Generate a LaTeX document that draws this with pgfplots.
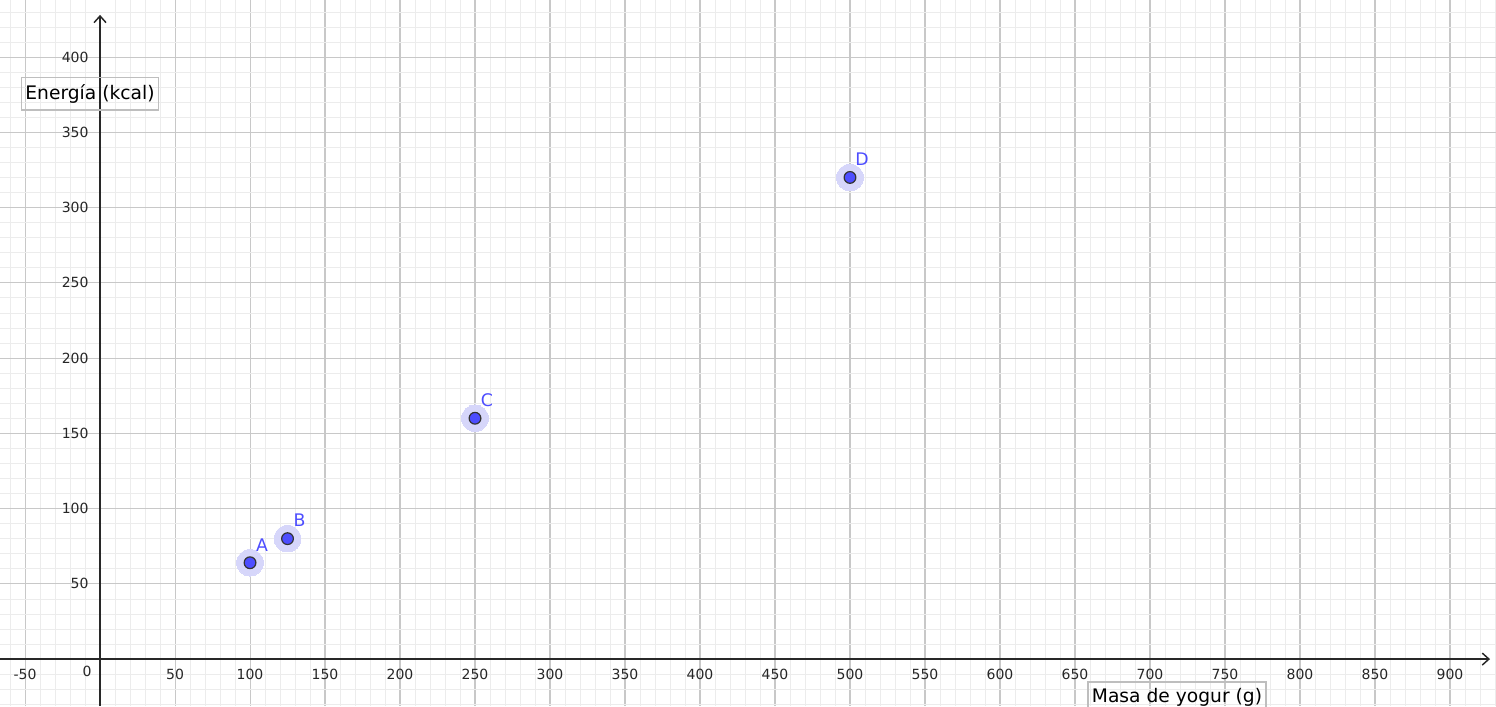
\documentclass[border=0pt]{standalone}
\usepackage{fontspec}
\setmainfont{DejaVu Sans}
\usepackage{pgfplots}
\pgfplotsset{compat=1.18}
\usetikzlibrary{arrows.meta}
\definecolor{ptblue}{RGB}{77,77,255}
\definecolor{halo}{RGB}{214,214,250}
\definecolor{majgrid}{RGB}{200,200,200}
\definecolor{mingrid}{RGB}{236,236,236}
\definecolor{axcol}{RGB}{40,40,40}
\definecolor{boxcol}{RGB}{190,190,190}
\begin{document}
\begin{tikzpicture}
\begin{axis}[
  scale only axis, width=1122pt, height=529.5pt,
  xmin=-66.7, xmax=930.7, ymin=-31.2, ymax=437.9,
  axis lines=middle, axis line style={draw=none},
  xtick distance=50, ytick distance=50, minor tick num=4,
  grid=both,
  major grid style={majgrid, line width=0.8pt},
  minor grid style={mingrid, line width=0.55pt},
  tick style={draw=none},
  /pgf/number format/assume math mode=true,
  ticklabel style={font=\fontsize{10.5}{12}\selectfont, text=black!85},
  xticklabel style={anchor=north, yshift=-2pt},
  yticklabel style={anchor=east, xshift=-3pt},
]
\addplot[only marks, color=halo, mark=*, mark size=10pt,
  mark options={draw=halo, fill=halo, line width=0pt}]
  coordinates {(100,64) (125,80) (250,160) (500,320)};
\addplot[only marks, mark=*, mark size=4.4pt,
  mark options={draw=black!80, fill=ptblue, line width=0.9pt},
  nodes near coords, point meta=explicit symbolic,
  every node near coord/.style={anchor=center, text=ptblue,
    font=\fontsize{13}{15}\selectfont, xshift=9pt, yshift=13.5pt}]
  coordinates {(100,64) [A] (125,80) [B] (250,160) [C] (500,320) [D]};
\draw[line width=1.1pt, axcol, -{Straight Barb[length=5pt, width=9pt]}]
  (axis cs:-66.7,0) -- (axis cs:926.7,0);
\draw[line width=1.1pt, axcol, -{Straight Barb[length=5pt, width=9pt]}]
  (axis cs:0,-31.2) -- (axis cs:0,428);
\node[anchor=north, font=\fontsize{10.5}{12}\selectfont, text=black!85, inner sep=0pt]
  at (axis cs:-8.7,-4.6) {0};
\node[draw=boxcol, line width=1.3pt, inner xsep=3pt, inner ysep=5pt, font=\fontsize{14}{16}\selectfont]
  at (axis cs:-6.7,375.7) {Energía (kcal)};
\node[draw=boxcol, line width=1.3pt, inner xsep=3pt, inner ysep=5pt, anchor=north, font=\fontsize{14}{16}\selectfont]
  at (axis cs:718,-14.6) {Masa de yogur (g)};
\coordinate (SW) at (rel axis cs:0,0);
\coordinate (NE) at (rel axis cs:1,1);
\end{axis}
\pgfresetboundingbox
\useasboundingbox (SW) rectangle (NE);
\end{tikzpicture}
\end{document}
